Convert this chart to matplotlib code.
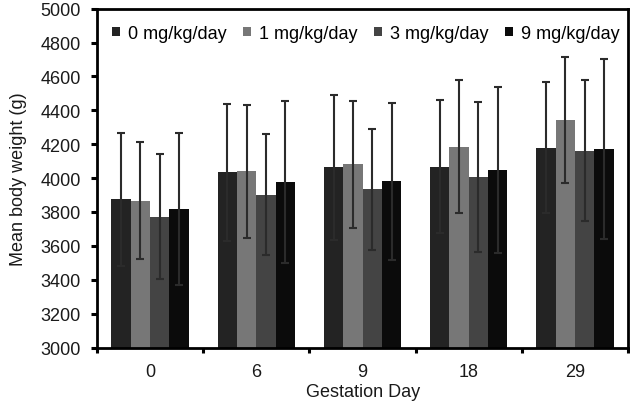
import matplotlib
matplotlib.use("Agg")
import matplotlib.pyplot as plt
import numpy as np

plt.rcParams['font.family'] = ['Liberation Sans', 'DejaVu Sans']

days = ["0", "6", "9", "18", "29"]
series = ["0 mg/kg/day", "1 mg/kg/day", "3 mg/kg/day", "9 mg/kg/day"]
means = {
    "0 mg/kg/day": [3875, 4033, 4063, 4068, 4180],
    "1 mg/kg/day": [3867, 4039, 4081, 4186, 4341],
    "3 mg/kg/day": [3773, 3903, 3934, 4006, 4160],
    "9 mg/kg/day": [3818, 3975, 3981, 4046, 4170],
}
sds = {
    "0 mg/kg/day": [392, 407, 430, 392, 387],
    "1 mg/kg/day": [347, 390, 373, 394, 372],
    "3 mg/kg/day": [368, 355, 358, 445, 416],
    "9 mg/kg/day": [446, 478, 465, 491, 531],
}
colors = ["#232323", "#777777", "#444444", "#0b0b0b"]

FS = 13
fig = plt.figure(figsize=(6.3, 4.02), dpi=100)
ax = fig.add_axes([0.154, 0.133, 0.843, 0.843])

x = np.arange(len(days))
w = 0.182
for i, s in enumerate(series):
    pos = x + (i - 1.5) * w
    ax.bar(pos, means[s], width=w, color=colors[i], label=s, zorder=2)
    ax.errorbar(pos, means[s], yerr=sds[s], fmt='none', ecolor='#2b2b2b',
                elinewidth=1.5, capsize=3.2, capthick=1.5, zorder=3)

ax.set_ylim(3000, 5000)
ax.set_yticks(np.arange(3000, 5001, 200))
ax.set_xlim(-0.5, len(days) - 0.5)
ax.set_xticks(np.arange(-0.5, len(days), 1.0))
ax.set_xticklabels([])
ax.set_xticks(x, minor=True)
ax.set_xticklabels(days, minor=True)
ax.tick_params(axis='x', which='minor', length=0, labelsize=FS, pad=11, colors='#1a1a1a')
ax.tick_params(axis='x', which='major', length=3.5, width=2.2, direction='out')
ax.tick_params(axis='y', length=4.5, width=2.2, direction='out', labelsize=FS, pad=7, labelcolor='#1a1a1a')

for sp in ax.spines.values():
    sp.set_linewidth(2)
    sp.set_color('black')

ax.set_ylabel("Mean body weight (g)", fontsize=FS, color='#1a1a1a', labelpad=10)
ax.set_xlabel("Gestation Day", fontsize=FS, color='#1a1a1a', labelpad=2)

ax.legend(loc='upper center', ncol=4, frameon=False, fontsize=FS,
          handlelength=0.45, handleheight=0.45, handletextpad=0.4,
          columnspacing=0.95, bbox_to_anchor=(0.506, 1.0), borderaxespad=0.5)

fig.savefig("out.png", dpi=100)
